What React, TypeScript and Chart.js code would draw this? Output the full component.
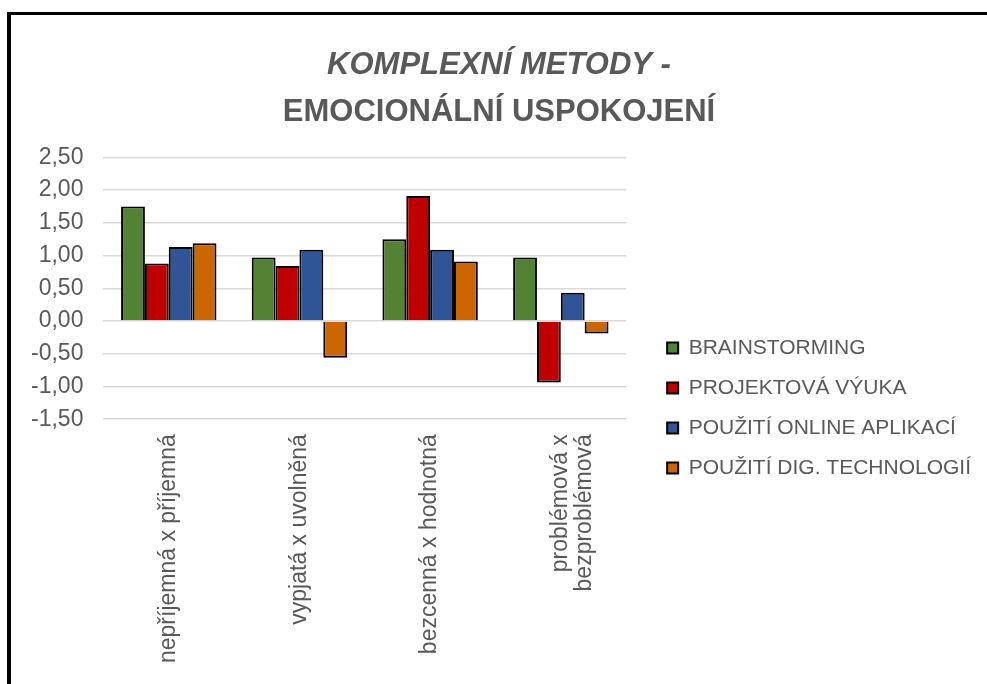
import React, { useEffect, useRef } from "react";
import { Chart, registerables } from "chart.js";

Chart.register(...registerables);

const titleLine1 = "KOMPLEXNÍ METODY -";
const titleLine2 = "EMOCIONÁLNÍ USPOKOJENÍ";

const categories: (string | string[])[] = [
  "nepříjemná x příjemná",
  "vypjatá x uvolněná",
  "bezcenná x hodnotná",
  ["problémová x", "bezproblémová"],
];

const seriesNames = [
  "BRAINSTORMING",
  "PROJEKTOVÁ VÝUKA",
  "POUŽITÍ ONLINE APLIKACÍ",
  "POUŽITÍ DIG. TECHNOLOGIÍ",
];

const brainstorming = [1.75, 0.97, 1.25, 0.97];
const projektovaVyuka = [0.88, 0.84, 1.91, -0.94];
const onlineAplikace = [1.13, 1.09, 1.09, 0.43];
const digTechnologie = [1.19, -0.56, 0.91, -0.19];

const seriesColors = ["#548235", "#C00000", "#2F5597", "#CC6600"];

const yMin = -1.5;
const yMax = 2.5;
const yStep = 0.5;

const FONT = "'Liberation Sans', Arial, sans-serif";
const TEXT = "#595959";

// Center the title blocks over the full canvas width (not reduced by layout padding)
const fullWidthTitles = {
  id: "fullWidthTitles",
  afterLayout(chart: any) {
    chart.boxes.forEach((b: any) => {
      if (b.position === "top" && b.options && "text" in b.options) {
        b.left = 0;
        b.right = chart.width;
        b.width = chart.width;
      }
    });
  },
};

export default function App() {
  const canvasRef = useRef<HTMLCanvasElement | null>(null);

  useEffect(() => {
    if (!canvasRef.current) return;
    const values = [brainstorming, projektovaVyuka, onlineAplikace, digTechnologie];
    const chart = new Chart(canvasRef.current, {
      type: "bar",
      data: {
        labels: categories,
        datasets: values.map((v, i) => ({
          label: seriesNames[i],
          data: v,
          backgroundColor: seriesColors[i],
          borderColor: "#000000",
          borderWidth: 2,
          categoryPercentage: 0.73,
          barPercentage: 1.0,
        })),
      },
      plugins: [fullWidthTitles],
      options: {
        animation: false,
        responsive: false,
        maintainAspectRatio: false,
        layout: { padding: { left: 0, right: 6, top: 0, bottom: 0 } },
        plugins: {
          title: {
            display: true,
            text: titleLine1,
            color: TEXT,
            font: { family: FONT, size: 31, weight: "bold", style: "italic", lineHeight: 1.2 },
            padding: { top: 32, bottom: 5 },
          },
          subtitle: {
            display: true,
            text: titleLine2,
            color: TEXT,
            font: { family: FONT, size: 31, weight: "bold", lineHeight: 1.2 },
            padding: { top: 5, bottom: 26 },
          },
          legend: {
            position: "right",
            align: "center",
            maxWidth: 400,
            title: {
              display: true,
              text: " ",
              font: { family: FONT, size: 10, lineHeight: 1.2 },
              padding: { top: 111, bottom: 0 },
            },
            labels: {
              boxWidth: 11,
              boxHeight: 11,
              padding: 19,
              color: TEXT,
              font: { family: FONT, size: 21 },
            },
          },
          tooltip: { enabled: false },
        },
        scales: {
          x: {
            grid: { display: false, drawTicks: false },
            border: { display: false },
            ticks: {
              color: TEXT,
              font: { family: FONT, size: 23, lineHeight: 1.05 },
              minRotation: 90,
              maxRotation: 90,
              padding: 15,
              autoSkip: false,
            },
          },
          y: {
            min: yMin,
            max: yMax,
            grid: { color: "#D9D9D9", lineWidth: 1.5, drawTicks: false },
            border: { display: false },
            ticks: {
              stepSize: yStep,
              color: TEXT,
              font: { family: FONT, size: 23 },
              padding: 20,
              callback: (v: any) => Number(v).toFixed(2).replace(".", ","),
            },
          },
          yPad: {
            type: "linear",
            position: "right",
            display: true,
            grid: { display: false, drawTicks: false },
            border: { display: false },
            ticks: { display: false },
            afterFit: (s: any) => {
              s.width = 22;
            },
          },
        },
      },
    } as any);
    return () => chart.destroy();
  }, []);

  return (
    <div
      style={{
        position: "fixed",
        left: 7,
        top: 12,
        width: 1000,
        height: 700,
        borderLeft: "4px solid #000",
        borderTop: "3px solid #000",
        background: "#fff",
        overflow: "hidden",
      }}
    >
      <canvas ref={canvasRef} width={976} height={663} style={{ display: "block" }} />
    </div>
  );
}
